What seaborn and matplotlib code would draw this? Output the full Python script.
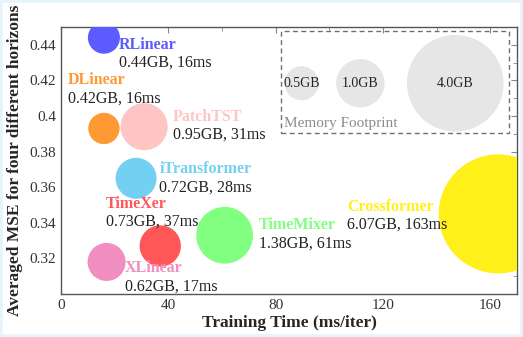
import matplotlib
matplotlib.use("Agg")
import matplotlib.pyplot as plt
import seaborn as sns
import pandas as pd
from matplotlib.patches import Rectangle
from matplotlib.ticker import MultipleLocator

models = ["RLinear", "DLinear", "PatchTST", "iTransformer", "TimeXer", "XLinear", "TimeMixer", "Crossformer"]
train_time = [16, 16, 31, 28, 37, 17, 61, 163]
mse = [0.444, 0.393, 0.394, 0.365, 0.327, 0.318, 0.333, 0.345]
memory_gb = [0.44, 0.42, 0.95, 0.72, 0.73, 0.62, 1.38, 6.07]
colors = ["#5b5bff", "#ff9933", "#ffc4c4", "#73d0f2", "#ff5757", "#f08fbf", "#80ff80", "#fff01a"]
label_lines = ["0.44GB, 16ms", "0.42GB, 16ms", "0.95GB, 31ms", "0.72GB, 28ms",
               "0.73GB, 37ms", "0.62GB, 17ms", "1.38GB, 61ms", "6.07GB, 163ms"]
label_pos = [(21.6, 0.4400), (2.6, 0.4200), (41.7, 0.3995), (36.6, 0.3700),
             (16.7, 0.3508), (23.8, 0.3146), (73.8, 0.3385), (106.8, 0.3490)]
legend_mem = [0.5, 1.0, 4.0]
legend_labels = ["0.5GB", "1.0GB", "4.0GB"]
legend_x = [89.7, 111.6, 147.0]
legend_y = [0.4184, 0.4184, 0.4184]

SIZE_PER_GB = 1210  # marker area (pt^2) per GB

df = pd.DataFrame({"model": models, "time": train_time, "mse": mse, "mem": memory_gb})
leg = pd.DataFrame({"x": legend_x, "y": legend_y, "mem": legend_mem})

sns.set_style("white")
plt.rcParams["font.family"] = ["Liberation Serif", "DejaVu Serif"]

fig = plt.figure(figsize=(5.23, 3.37), dpi=100)
ax = fig.add_axes([61 / 523, 1 - 294 / 337, (517 - 61) / 523, (294 - 27) / 337])

# legend bubbles
ax.scatter(leg["x"], leg["y"], s=[m * SIZE_PER_GB for m in leg["mem"]],
           color="#e6e6e6", linewidths=0, zorder=1)
for x, y, t in zip(legend_x, legend_y, legend_labels):
    ax.text(x, y, t, ha="center", va="center", fontsize=10, color="#222222", zorder=2)
ax.add_patch(Rectangle((81.9, 0.3904), 167.1 - 81.9, 0.448 - 0.3904, fill=False,
                       linestyle=(0, (3.5, 2.5)), edgecolor="#707070", linewidth=1.0, zorder=2))
ax.text(83.3, 0.3957, "Memory Footprint", ha="left", va="center", fontsize=11, color="#8c8c8c")

sns.scatterplot(data=df, x="time", y="mse", hue="model", palette=colors,
                size="mem", sizes=(min(memory_gb) * SIZE_PER_GB, max(memory_gb) * SIZE_PER_GB),
                size_norm=(min(memory_gb), max(memory_gb)),
                linewidth=0, alpha=1, legend=False, ax=ax, zorder=3)

for (lx, ly), name, c, line in zip(label_pos, models, colors, label_lines):
    ax.text(lx, ly, name, color=c, fontweight="bold", fontsize=11.5, ha="left", va="center", zorder=4)
    ax.text(lx, ly - 0.0102, line, color="#222222", fontsize=11.5, ha="left", va="center", zorder=4)

ax.set_xlim(0, 170)
ax.set_ylim(0.30, 0.45)
ax.xaxis.set_major_locator(MultipleLocator(40))
ax.xaxis.set_minor_locator(MultipleLocator(20))
ax.yaxis.set_major_locator(MultipleLocator(0.02))
ax.yaxis.set_minor_locator(MultipleLocator(0.01))
ax.set_yticks([0.32, 0.34, 0.36, 0.38, 0.40, 0.42, 0.44])
ax.set_yticklabels(["0.32", "0.34", "0.36", "0.38", "0.4", "0.42", "0.44"])
ax.tick_params(which="both", direction="in", top=True, right=True, colors="#888888",
               labelcolor="#333333", labelsize=11)
ax.tick_params(which="major", length=4)
ax.tick_params(which="minor", length=3)
for s in ax.spines.values():
    s.set_color("#555555")
    s.set_linewidth(1.0)

ax.set_xlabel("Training Time (ms/iter)", fontsize=12.5, fontweight="bold", labelpad=2)
ax.set_ylabel("Averaged MSE for four different horizons", fontsize=12.5, fontweight="bold", labelpad=5)

fig.patches.append(Rectangle((0, 0), 1, 1, transform=fig.transFigure, fill=False,
                             edgecolor="#e6f3fa", linewidth=4, zorder=10))

fig.savefig("out.png", dpi=100)
